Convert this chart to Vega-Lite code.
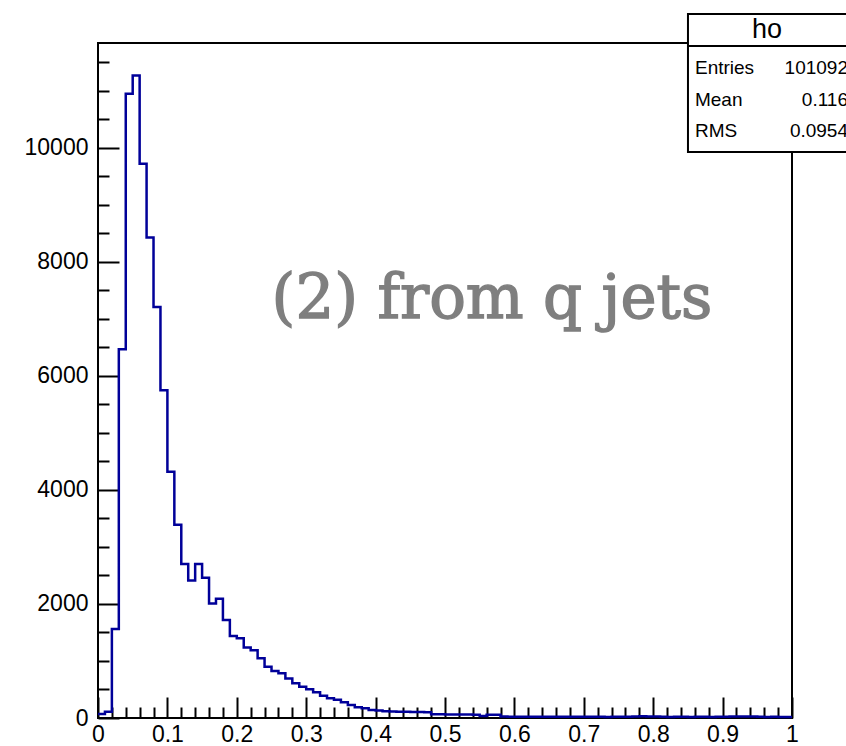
{
  "$schema": "https://vega.github.io/schema/vega-lite/v6.json",
  "width": 694,
  "height": 675,
  "autosize": {"type": "none"},
  "padding": {"left": 98, "top": 43, "right": 54, "bottom": 28},
  "background": "white",
  "config": {
    "view": {"stroke": "black", "strokeWidth": 2},
    "font": "Liberation Sans"
  },
  "datasets": {
    "hist": [
      {"x": 0.00, "count": 70}, {"x": 0.01, "count": 110}, {"x": 0.02, "count": 1560}, {"x": 0.03, "count": 6470},
      {"x": 0.04, "count": 10950}, {"x": 0.05, "count": 11270}, {"x": 0.06, "count": 9720}, {"x": 0.07, "count": 8430},
      {"x": 0.08, "count": 7210}, {"x": 0.09, "count": 5750}, {"x": 0.10, "count": 4320}, {"x": 0.11, "count": 3390},
      {"x": 0.12, "count": 2700}, {"x": 0.13, "count": 2410}, {"x": 0.14, "count": 2700}, {"x": 0.15, "count": 2460},
      {"x": 0.16, "count": 2010}, {"x": 0.17, "count": 2090}, {"x": 0.18, "count": 1720}, {"x": 0.19, "count": 1440},
      {"x": 0.20, "count": 1400}, {"x": 0.21, "count": 1235}, {"x": 0.22, "count": 1190}, {"x": 0.23, "count": 1050},
      {"x": 0.24, "count": 900}, {"x": 0.25, "count": 825}, {"x": 0.26, "count": 785}, {"x": 0.27, "count": 695},
      {"x": 0.28, "count": 610}, {"x": 0.29, "count": 550}, {"x": 0.30, "count": 505}, {"x": 0.31, "count": 450},
      {"x": 0.32, "count": 390}, {"x": 0.33, "count": 345}, {"x": 0.34, "count": 320}, {"x": 0.35, "count": 275},
      {"x": 0.36, "count": 230}, {"x": 0.37, "count": 190}, {"x": 0.38, "count": 170}, {"x": 0.39, "count": 140},
      {"x": 0.40, "count": 130}, {"x": 0.41, "count": 120}, {"x": 0.42, "count": 115}, {"x": 0.43, "count": 110},
      {"x": 0.44, "count": 110}, {"x": 0.45, "count": 105}, {"x": 0.46, "count": 105}, {"x": 0.47, "count": 100},
      {"x": 0.48, "count": 65}, {"x": 0.49, "count": 65}, {"x": 0.50, "count": 62}, {"x": 0.51, "count": 62},
      {"x": 0.52, "count": 60}, {"x": 0.53, "count": 60}, {"x": 0.54, "count": 58}, {"x": 0.55, "count": 35},
      {"x": 0.56, "count": 58}, {"x": 0.57, "count": 55}, {"x": 0.58, "count": 25}, {"x": 0.59, "count": 24},
      {"x": 0.60, "count": 22}, {"x": 0.61, "count": 24}, {"x": 0.62, "count": 22}, {"x": 0.63, "count": 20},
      {"x": 0.64, "count": 22}, {"x": 0.65, "count": 21}, {"x": 0.66, "count": 20}, {"x": 0.67, "count": 22},
      {"x": 0.68, "count": 20}, {"x": 0.69, "count": 21}, {"x": 0.70, "count": 20}, {"x": 0.71, "count": 22},
      {"x": 0.72, "count": 20}, {"x": 0.73, "count": 19}, {"x": 0.74, "count": 21}, {"x": 0.75, "count": 20},
      {"x": 0.76, "count": 22}, {"x": 0.77, "count": 28}, {"x": 0.78, "count": 30}, {"x": 0.79, "count": 28},
      {"x": 0.80, "count": 26}, {"x": 0.81, "count": 20}, {"x": 0.82, "count": 19}, {"x": 0.83, "count": 21},
      {"x": 0.84, "count": 20}, {"x": 0.85, "count": 19}, {"x": 0.86, "count": 21}, {"x": 0.87, "count": 20},
      {"x": 0.88, "count": 19}, {"x": 0.89, "count": 20}, {"x": 0.90, "count": 21}, {"x": 0.91, "count": 27},
      {"x": 0.92, "count": 28}, {"x": 0.93, "count": 26}, {"x": 0.94, "count": 27}, {"x": 0.95, "count": 20},
      {"x": 0.96, "count": 19}, {"x": 0.97, "count": 20}, {"x": 0.98, "count": 18}, {"x": 0.99, "count": 19},
      {"x": 1.00, "count": 19}
    ],
    "stats": [
      {"label": "Entries", "value": "101092", "row": 11401},
      {"label": "Mean", "value": "0.116", "row": 10840},
      {"label": "RMS", "value": "0.0954", "row": 10296}
    ],
    "box": [{"x0": 0.8501, "x1": 1.08, "y0": 9928, "y1": 12349, "ysep": 11787, "title": "ho", "xt": 0.964, "yt": 12068}],
    "note": [{"text": "(2) from q jets", "x": 0.5677, "y": 7016}]
  },
  "resolve": {"axis": {"x": "independent", "y": "independent"}},
  "layer": [
    {
      "data": {"name": "hist"},
      "mark": {"type": "line", "opacity": 0},
      "encoding": {
        "x": {"field": "x", "type": "quantitative", "scale": {"domain": [0, 1], "nice": false, "zero": false},
          "axis": {"orient": "bottom", "values": [0.02,0.04,0.06,0.08,0.12,0.14,0.16,0.18,0.22,0.24,0.26,0.28,0.32,0.34,0.36,0.38,0.42,0.44,0.46,0.48,0.52,0.54,0.56,0.58,0.62,0.64,0.66,0.68,0.72,0.74,0.76,0.78,0.82,0.84,0.86,0.88,0.92,0.94,0.96,0.98],
            "labels": false, "domain": false, "grid": false, "title": null, "tickSize": -11, "tickColor": "black", "tickWidth": 2}},
        "y": {"field": "count", "type": "quantitative", "scale": {"domain": [0, 11840], "nice": false},
          "axis": {"orient": "left", "values": [500,1000,1500,2500,3000,3500,4500,5000,5500,6500,7000,7500,8500,9000,9500,10500,11000,11500],
            "labels": false, "domain": false, "grid": false, "title": null, "tickSize": -11, "tickColor": "black", "tickWidth": 2}}
      }
    },
    {
      "data": {"name": "hist"},
      "mark": {"type": "line", "interpolate": "step-after", "color": "#000099", "strokeWidth": 2.5},
      "encoding": {
        "x": {"field": "x", "type": "quantitative",
          "axis": {"orient": "bottom", "values": [0,0.1,0.2,0.3,0.4,0.5,0.6,0.7,0.8,0.9,1], "labelExpr": "datum.value == 1 ? '1' : datum.value == 0 ? '0' : format(datum.value, '.1f')",
            "domain": false, "grid": false, "title": null, "tickSize": -21, "tickColor": "black", "tickWidth": 2,
            "labelFont": "Liberation Sans", "labelFontSize": 23, "labelColor": "black", "labelPadding": 26, "labelFlush": false, "labelOverlap": false}},
        "y": {"field": "count", "type": "quantitative",
          "axis": {"orient": "left", "values": [0,2000,4000,6000,8000,10000], "format": "d",
            "domain": false, "grid": false, "title": null, "tickSize": -21, "tickColor": "black", "tickWidth": 2,
            "labelFont": "Liberation Sans", "labelFontSize": 23, "labelColor": "black", "labelPadding": 31, "labelFlush": false, "labelOverlap": false}}
      }
    },
    {
      "data": {"name": "note"},
      "mark": {"type": "text", "font": "DejaVu Serif", "fontWeight": "normal", "fontSize": 61, "color": "#7f7f7f", "stroke": "#7f7f7f", "strokeWidth": 1.4, "align": "center", "baseline": "alphabetic", "clip": false},
      "encoding": {
        "x": {"field": "x", "type": "quantitative", "axis": null},
        "y": {"field": "y", "type": "quantitative", "axis": null},
        "text": {"field": "text"}
      }
    },
    {
      "data": {"name": "box"},
      "mark": {"type": "rect", "fill": "white", "stroke": "black", "strokeWidth": 2, "clip": false},
      "encoding": {
        "x": {"field": "x0", "type": "quantitative", "axis": null},
        "x2": {"field": "x1"},
        "y": {"field": "y0", "type": "quantitative", "axis": null},
        "y2": {"field": "y1"}
      }
    },
    {
      "data": {"name": "box"},
      "mark": {"type": "rule", "color": "black", "strokeWidth": 2, "clip": false},
      "encoding": {
        "x": {"field": "x0", "type": "quantitative", "axis": null},
        "x2": {"field": "x1"},
        "y": {"field": "ysep", "type": "quantitative", "axis": null}
      }
    },
    {
      "data": {"name": "box"},
      "mark": {"type": "text", "fontSize": 27, "font": "Liberation Sans", "color": "black", "align": "center", "baseline": "middle", "clip": false},
      "encoding": {
        "x": {"field": "xt", "type": "quantitative", "axis": null},
        "y": {"field": "yt", "type": "quantitative", "axis": null},
        "text": {"field": "title"}
      }
    },
    {
      "data": {"name": "stats"},
      "mark": {"type": "text", "fontSize": 19, "font": "Liberation Sans", "color": "black", "align": "left", "baseline": "middle", "clip": false},
      "encoding": {
        "x": {"datum": 0.8602, "type": "quantitative", "axis": null},
        "y": {"field": "row", "type": "quantitative", "axis": null},
        "text": {"field": "label"}
      }
    },
    {
      "data": {"name": "stats"},
      "mark": {"type": "text", "fontSize": 19, "font": "Liberation Sans", "color": "black", "align": "right", "baseline": "middle", "clip": false},
      "encoding": {
        "x": {"datum": 1.0807, "type": "quantitative", "axis": null},
        "y": {"field": "row", "type": "quantitative", "axis": null},
        "text": {"field": "value"}
      }
    }
  ]
}
